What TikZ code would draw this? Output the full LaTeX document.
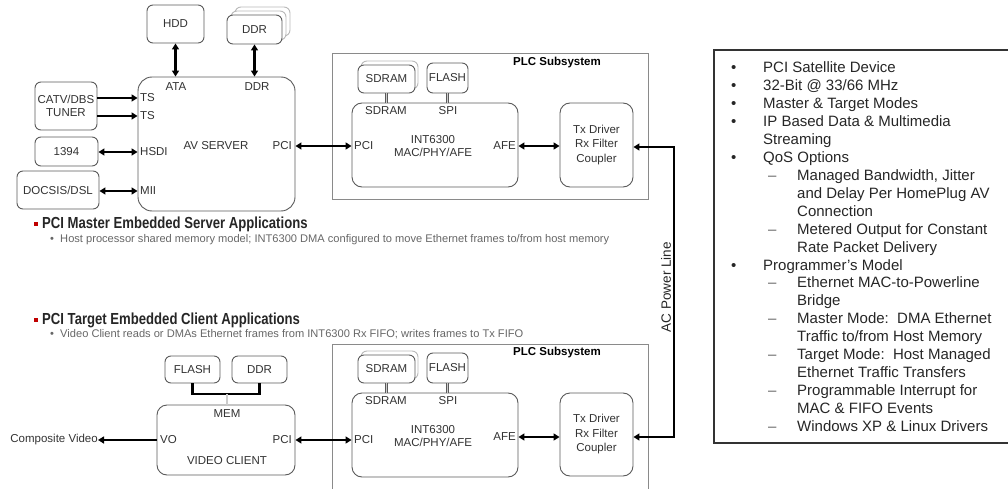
\documentclass[tikz,border=0pt]{standalone}
\usepackage{fontspec}
\setmainfont{Liberation Sans}
\newfontfamily\headfam[FakeStretch=0.82]{Liberation Sans}
\usetikzlibrary{arrows.meta}
\definecolor{boxc}{HTML}{5A5A5A}
\definecolor{txtc}{HTML}{333333}
\definecolor{plcc}{HTML}{8A8A8A}
\definecolor{subc}{HTML}{666666}
\definecolor{redb}{HTML}{C00000}
\newcommand\lblfont{\fontsize{11.5}{13}\selectfont}
\newcommand\txfont{\fontsize{11.5}{14.5}\selectfont}
\newcommand\headfont{\headfam\bfseries\fontsize{16}{18}\selectfont}
\newcommand\subfont{\fontsize{11.1}{13}\selectfont}
\newcommand\featfont{\fontsize{15}{17.95}\selectfont}
\newcommand\fb{\makebox[32pt][l]{\textbullet}}
\newcommand\fd{\hspace*{37pt}\makebox[29pt][l]{\textcolor{subc}{--}}}
\newcommand\fc{\hspace*{66pt}}
\begin{document}
\begin{tikzpicture}[x=1pt,y=-1pt,
  >={Triangle[length=6pt,width=7pt]},
  box/.style={draw=boxc, line width=0.9pt, rounded corners=6pt, fill=white, inner sep=0pt, font=\lblfont, text=txtc, align=center},
  shadowbox/.style={box, draw=gray!55},
  bigbox/.style={box, rounded corners=14pt},
  lbl/.style={font=\lblfont, text=txtc, inner sep=0pt},
  thk/.style={line width=2.3pt, draw=black},
  conn/.style={double=gray!40, double distance=1.2pt, draw=boxc, line width=0.6pt},
  plcline/.style={draw=plcc, line width=1pt},
  plclbl/.style={font=\lblfont\bfseries, text=black, inner sep=0pt},
  head/.style={font=\headfont, text=black!85, inner sep=0pt, anchor=west},
  sub/.style={font=\subfont, text=subc, inner sep=0pt, anchor=west},
  redsq/.style={fill=redb, minimum size=3.5pt, inner sep=0pt}
]
\useasboundingbox (0,0) rectangle (1008,489);

% ---------- AV server section ----------
\node[box, minimum width=57, minimum height=38] (hdd) at (175.5,24) {HDD};
\node[shadowbox, minimum width=55, minimum height=29] (ddrsb) at (262.5,21.5) {};
\node[shadowbox, minimum width=55, minimum height=29] (ddrsa) at (258.5,25.5) {};
\node[box, minimum width=55, minimum height=29] (ddr) at (254.5,29.5) {DDR};
\node[bigbox, minimum width=157, minimum height=134] (av) at (216.5,144) {};
\node[lbl] (avname) at (216,146) {AV SERVER};
\node[box, minimum width=62, minimum height=48] (tuner) at (66,106) {CATV/DBS\\TUNER};
\node[box, minimum width=63, minimum height=29] (fw) at (66.5,151.5) {1394};
\node[box, minimum width=82, minimum height=38] (docsis) at (58,190) {DOCSIS/DSL};

\node[lbl] (ata) at (176,87) {ATA};
\node[lbl] (ddrp) at (257,87) {DDR};
\node[lbl, anchor=west] (ts1) at (140,98) {TS};
\node[lbl, anchor=west] (ts2) at (140,116) {TS};
\node[lbl, anchor=west] (hsdi) at (140,152) {HSDI};
\node[lbl, anchor=west] (mii) at (140,191) {MII};
\node[lbl, anchor=east] (avpci) at (292,146) {PCI};

\draw[thk,<->] (hdd.south) -- (hdd.south |- av.north);
\draw[thk,<->] (ddr.south) -- (ddr.south |- av.north);
\draw[thk,->] (tuner.east |- ts1) -- (av.west |- ts1);
\draw[thk,->] (tuner.east |- ts2) -- (av.west |- ts2);
\draw[thk,<->] (fw.east |- hsdi) -- (av.west |- hsdi);
\draw[thk,<->] (docsis.east |- mii) -- (av.west |- mii);

% ---------- upper PLC subsystem ----------
\node[draw=plcc, line width=1pt, minimum width=316, minimum height=145, inner sep=0pt] (plc1) at (490,126.5) {};
\node[plclbl] (plc1t) at (557,63) {PLC Subsystem};
\node[shadowbox, minimum width=57, minimum height=28] (sdr1b) at (389.5,75) {};
\node[box, minimum width=57, minimum height=28] (sdr1) at (386.5,79) {SDRAM};
\node[box, minimum width=41, minimum height=30] (fl1) at (447.5,78) {FLASH};
\node[bigbox, rounded corners=10pt, minimum width=166, minimum height=84] (int1) at (435,145) {};
\node[lbl, align=center] (int1t) at (433,146.5) {INT6300\\MAC/PHY/AFE};
\node[box, rounded corners=10pt, font=\txfont, minimum width=73, minimum height=84] (tx1) at (596.5,145) {Tx Driver\\Rx Filter\\Coupler};
\node[lbl] (sdr1p) at (386,111) {SDRAM};
\node[lbl] (spi1) at (448,111) {SPI};
\node[lbl, anchor=west] (pci1) at (354,146) {PCI};
\node[lbl, anchor=east] (afe1) at (516,146) {AFE};

\draw[conn] (sdr1.south) -- (sdr1.south |- int1.north);
\draw[conn] (fl1.south) -- (fl1.south |- int1.north);
\draw[thk,<->] (av.east |- avpci) -- (int1.west |- avpci);
\draw[thk,<->] (int1.east |- afe1) -- (tx1.west |- afe1);

% ---------- headings ----------
\node[redsq] (rb1) at (36,224) {};
\node[head] (h1) at (42,224) {PCI Master Embedded Server Applications};
\node[sub] (s1) at (50,240) {\textbullet\ \ Host processor shared memory model; INT6300 DMA configured to move Ethernet frames to/from host memory};
\node[redsq] (rb2) at (36,320) {};
\node[head] (h2) at (42,320) {PCI Target Embedded Client Applications};
\node[sub] (s2) at (50,334) {\textbullet\ \ Video Client reads or DMAs Ethernet frames from INT6300 Rx FIFO; writes frames to Tx FIFO};

% ---------- video client section ----------
\node[box, minimum width=55, minimum height=27] (fl3) at (192.5,369.5) {FLASH};
\node[box, minimum width=55, minimum height=27] (ddr3) at (259.5,369.5) {DDR};
\node[bigbox, rounded corners=10pt, minimum width=138, minimum height=70] (vc) at (226,440) {};
\node[lbl] (mem) at (227,414) {MEM};
\node[lbl, anchor=west] (vo) at (160,440) {VO};
\node[lbl, anchor=east] (vcpci) at (292,440) {PCI};
\node[lbl] (vcname) at (227,461) {VIDEO CLIENT};
\node[lbl, anchor=east] (cv) at (98,440) {Composite Video};
\coordinate (memj) at (227,394);
\draw[thk] (fl3.south) -- (fl3.south |- memj) -- (ddr3.south |- memj) -- (ddr3.south);
\draw[conn] (memj) -- (memj |- vc.north);
\draw[thk,->] (vc.west |- vo) -- (cv.east);

% ---------- lower PLC subsystem ----------
\draw[plcline] (332,489) -- (332,344) -- (648,344) -- (648,489);
\node[plclbl] (plc2t) at (557,353) {PLC Subsystem};
\node[shadowbox, minimum width=57, minimum height=28] (sdr2b) at (389.5,365) {};
\node[box, minimum width=57, minimum height=28] (sdr2) at (386.5,369) {SDRAM};
\node[box, minimum width=41, minimum height=30] (fl2) at (447.5,368) {FLASH};
\node[bigbox, rounded corners=10pt, minimum width=166, minimum height=84] (int2) at (435,435) {};
\node[lbl, align=center] (int2t) at (433,436.5) {INT6300\\MAC/PHY/AFE};
\node[box, rounded corners=10pt, font=\txfont, minimum width=73, minimum height=83] (tx2) at (596.5,434.5) {Tx Driver\\Rx Filter\\Coupler};
\node[lbl] (sdr2p) at (386,401) {SDRAM};
\node[lbl] (spi2) at (448,401) {SPI};
\node[lbl, anchor=west] (pci2) at (354,440) {PCI};
\node[lbl, anchor=east] (afe2) at (516,437) {AFE};

\draw[conn] (sdr2.south) -- (sdr2.south |- int2.north);
\draw[conn] (fl2.south) -- (fl2.south |- int2.north);
\draw[thk,<->] (vc.east |- vcpci) -- (int2.west |- vcpci);
\draw[thk,<->] (int2.east |- afe2) -- (tx2.west |- afe2);

% ---------- AC power line ----------
\coordinate (acT) at (674,147);
\coordinate (acB) at (674,437);
\draw[thk,<->] (tx1.east |- acT) -- (acT) -- (acB) -- (tx2.east |- acB);
\node[rotate=90, font=\fontsize{13.5}{15}\selectfont, text=black!85, inner sep=0pt] (acl) at (666,287) {AC Power Line};

% ---------- feature box (right edge runs off the picture) ----------
\draw[draw=black!80, line width=1.8pt] (1010,50) -- (714,50) -- (714,443) -- (1010,443);
\node[anchor=north west, inner sep=0pt, align=left, font=\featfont, text=black!85] (feattxt) at (731,61.5) {%
\fb PCI Satellite Device\\
\fb 32-Bit @ 33/66 MHz\\
\fb Master \& Target Modes\\
\fb IP Based Data \& Multimedia\\
\hspace*{32pt}Streaming\\
\fb QoS Options\\
\fd Managed Bandwidth, Jitter\\
\fc and Delay Per HomePlug AV\\
\fc Connection\\
\fd Metered Output for Constant\\
\fc Rate Packet Delivery\\
\fb Programmer's Model\\
\fd Ethernet MAC-to-Powerline\\
\fc Bridge\\
\fd Master Mode:\ \ DMA Ethernet\\
\fc Traffic to/from Host Memory\\
\fd Target Mode:\ \ Host Managed\\
\fc Ethernet Traffic Transfers\\
\fd Programmable Interrupt for\\
\fc MAC \& FIFO Events\\
\fd Windows XP \& Linux Drivers};
\end{tikzpicture}
\end{document}
